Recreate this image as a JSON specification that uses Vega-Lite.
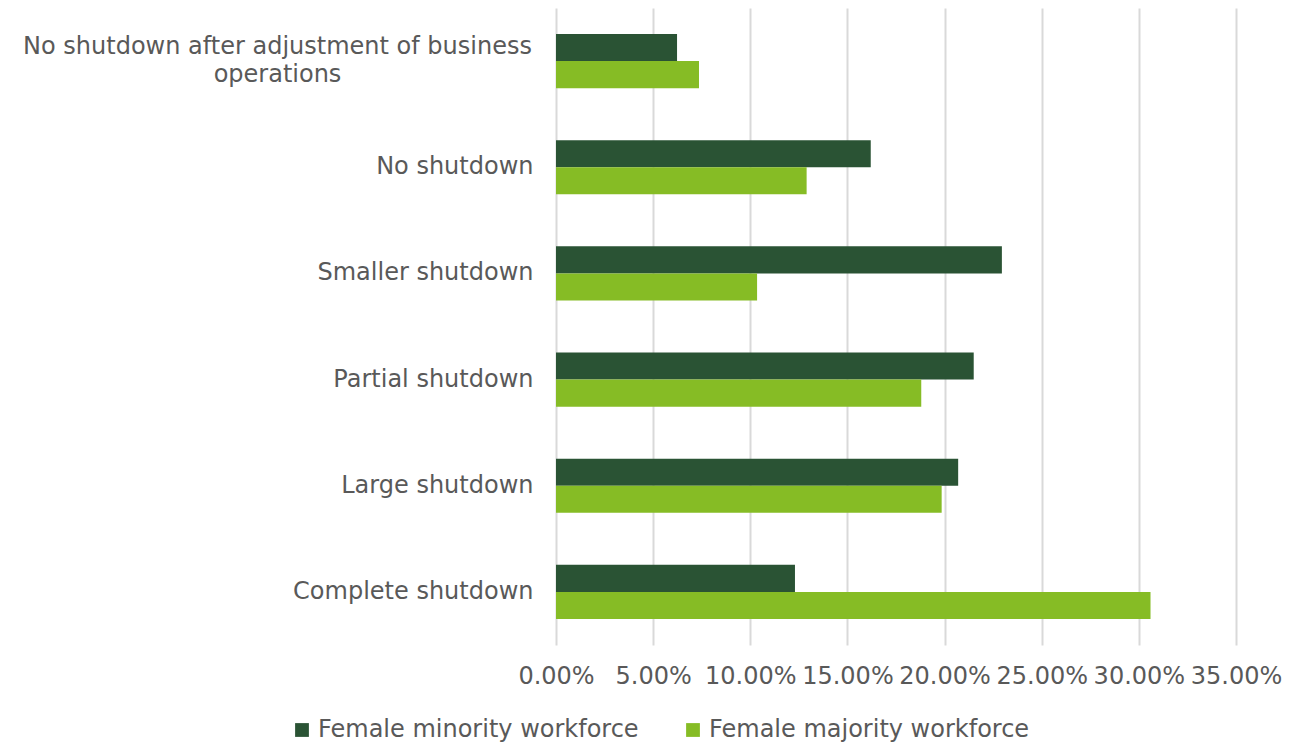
{
  "$schema": "https://vega.github.io/schema/vega-lite/v6.json",
  "autosize": {"type": "none"},
  "width": 680,
  "height": 637,
  "padding": {"left": 556, "top": 8, "right": 75, "bottom": 98},
  "background": "white",
  "config": {
    "view": {"stroke": null},
    "font": "DejaVu Sans"
  },
  "data": {
    "values": [
      {"cat": "No shutdown after adjustment of business operations", "series": "Female minority workforce", "v": 0.0623},
      {"cat": "No shutdown after adjustment of business operations", "series": "Female majority workforce", "v": 0.0736},
      {"cat": "No shutdown", "series": "Female minority workforce", "v": 0.162},
      {"cat": "No shutdown", "series": "Female majority workforce", "v": 0.129},
      {"cat": "Smaller shutdown", "series": "Female minority workforce", "v": 0.2295},
      {"cat": "Smaller shutdown", "series": "Female majority workforce", "v": 0.1035},
      {"cat": "Partial shutdown", "series": "Female minority workforce", "v": 0.215},
      {"cat": "Partial shutdown", "series": "Female majority workforce", "v": 0.188},
      {"cat": "Large shutdown\u00a0", "series": "Female minority workforce", "v": 0.207},
      {"cat": "Large shutdown\u00a0", "series": "Female majority workforce", "v": 0.1985},
      {"cat": "Complete shutdown", "series": "Female minority workforce", "v": 0.123},
      {"cat": "Complete shutdown", "series": "Female majority workforce", "v": 0.306}
    ]
  },
  "mark": {"type": "bar"},
  "encoding": {
    "y": {
      "field": "cat",
      "type": "nominal",
      "sort": null,
      "scale": {"paddingInner": 0.49, "paddingOuter": 0.245},
      "axis": {
        "title": null,
        "domain": false,
        "ticks": false,
        "labelFontSize": 24,
        "labelColor": "#595959",
        "labelLimit": 600,
        "labelPadding": {"condition": {"test": "length(datum.value) > 40", "value": 279}, "value": 23},
        "labelAlign": {"condition": {"test": "length(datum.value) > 40", "value": "center"}, "value": "right"},
        "labelOffset": {"condition": {"test": "length(datum.value) > 40", "value": -14}, "value": 0},
        "labelLineHeight": 28,
        "labelExpr": "length(datum.value) > 40 ? ['No shutdown after adjustment of business', 'operations'] : datum.value"
      }
    },
    "yOffset": {
      "field": "series",
      "type": "nominal",
      "sort": ["Female minority workforce", "Female majority workforce"]
    },
    "x": {
      "field": "v",
      "type": "quantitative",
      "scale": {"domain": [0, 0.35], "nice": false},
      "axis": {
        "title": null,
        "format": ".2%",
        "values": [0, 0.05, 0.1, 0.15, 0.2, 0.25, 0.3, 0.35],
        "domain": false,
        "ticks": false,
        "grid": true,
        "gridColor": "#d9d9d9",
        "gridWidth": 2,
        "labelFontSize": 24,
        "labelColor": "#595959",
        "labelPadding": 19,
        "labelOverlap": false,
        "labelFlush": false
      }
    },
    "color": {
      "field": "series",
      "type": "nominal",
      "scale": {
        "domain": ["Female minority workforce", "Female majority workforce"],
        "range": ["#2a5334", "#86bc25"]
      },
      "legend": {
        "title": null,
        "orient": "none",
        "direction": "horizontal",
        "legendX": -266,
        "legendY": 710,
        "symbolType": "square",
        "symbolSize": 190,
        "symbolStrokeWidth": 0,
        "labelFontSize": 24,
        "labelColor": "#595959",
        "labelOffset": 4,
        "columnPadding": 42,
        "labelLimit": 400
      }
    }
  }
}
